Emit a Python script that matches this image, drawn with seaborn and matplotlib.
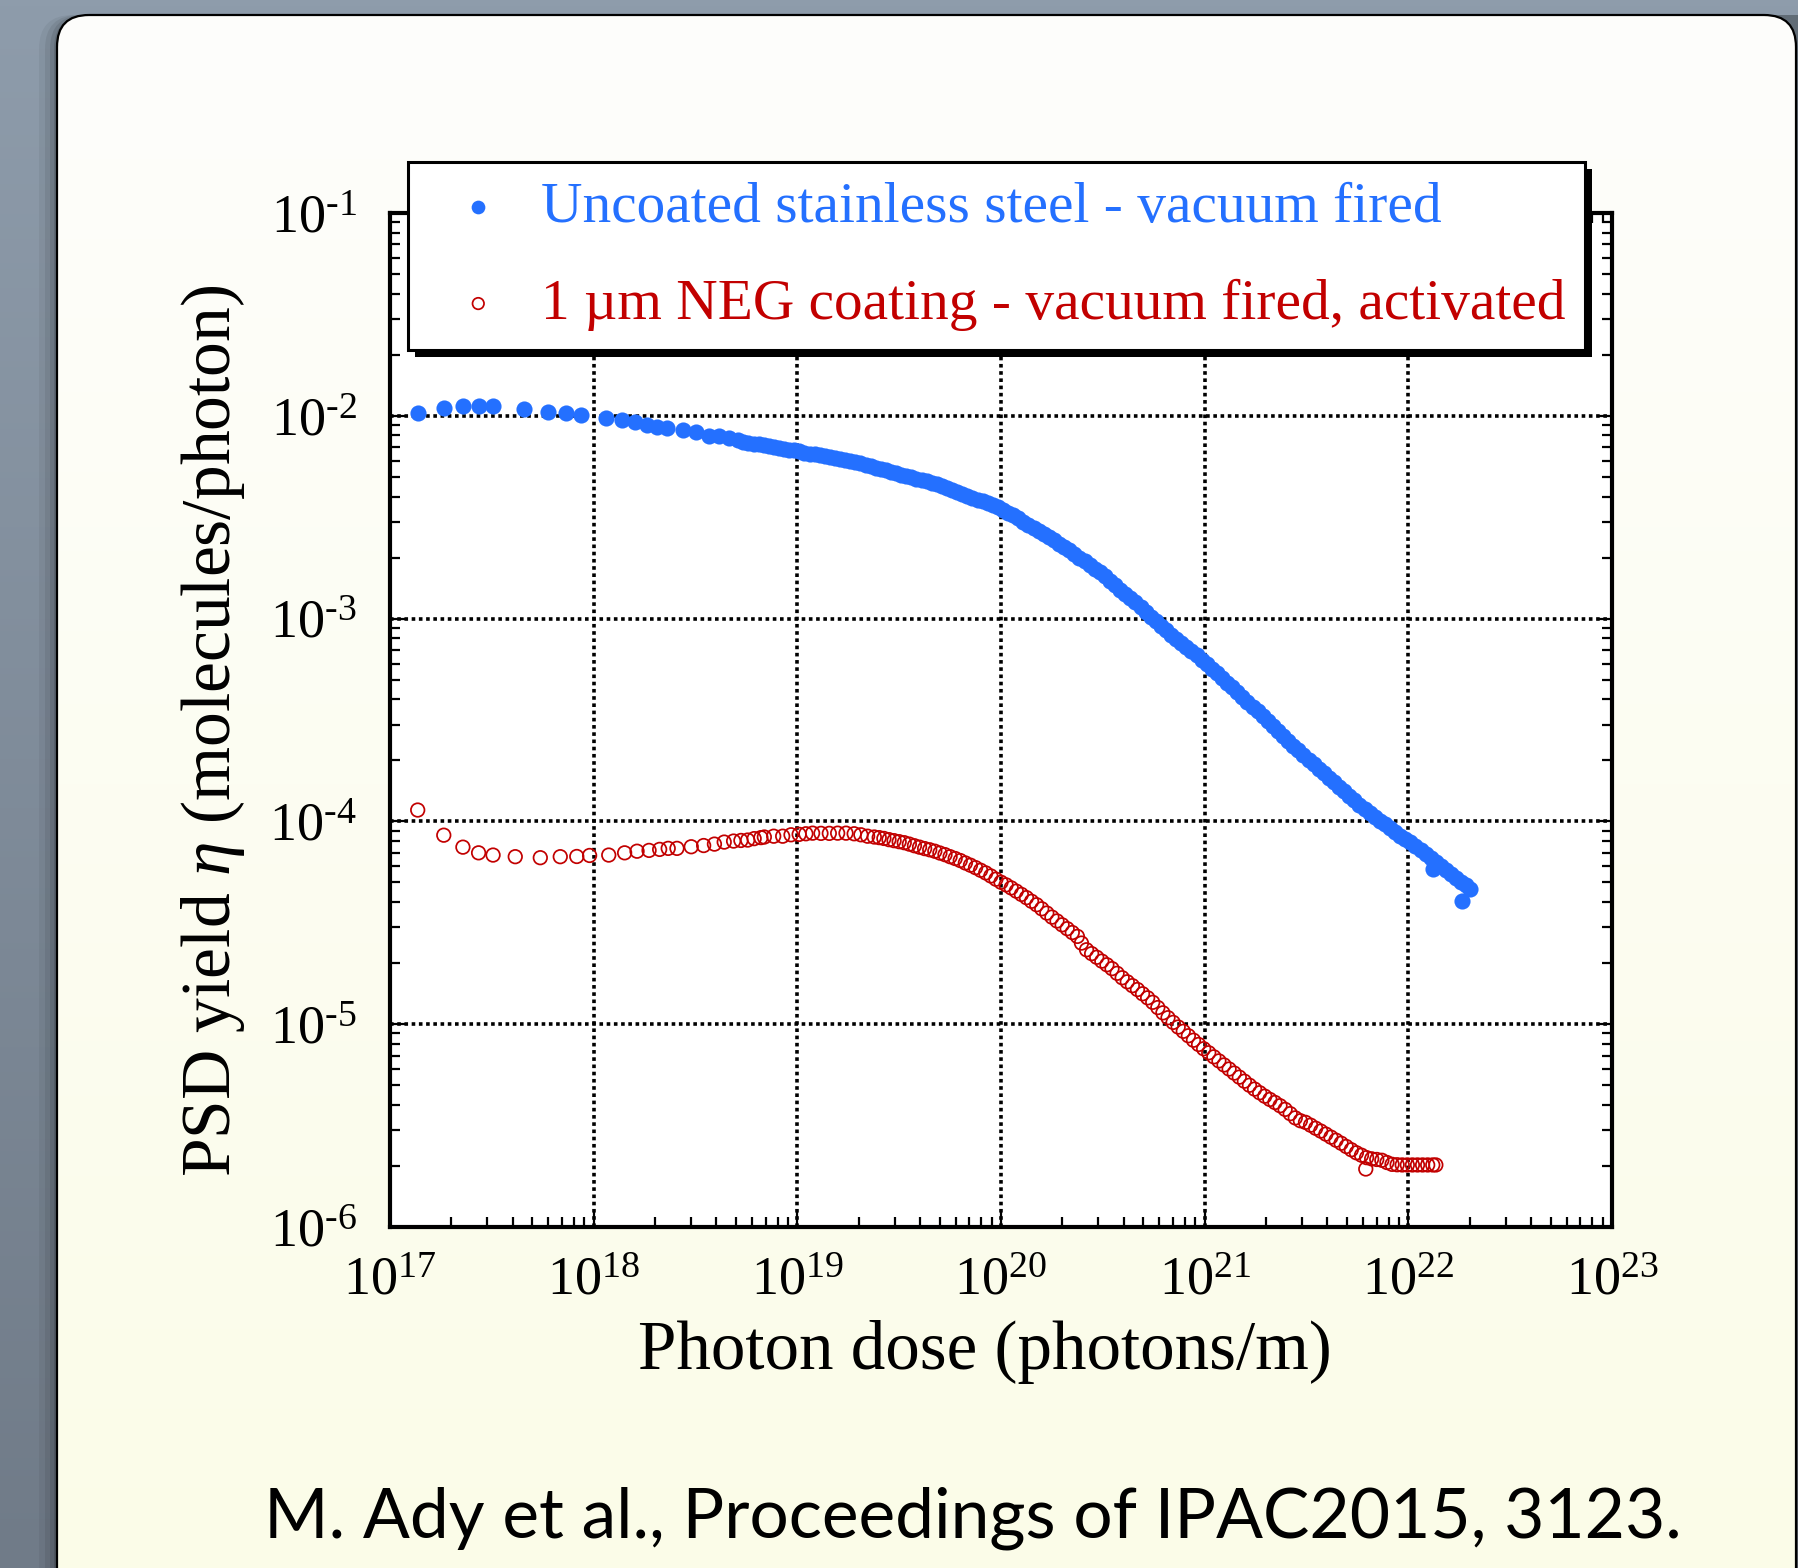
import numpy as np
import matplotlib
matplotlib.use("Agg")
import matplotlib.pyplot as plt
import seaborn as sns
from matplotlib.patches import FancyBboxPatch, Rectangle
from matplotlib.colors import LinearSegmentedColormap
from matplotlib.ticker import LogLocator, NullFormatter

# values, as log10 of dose (photons/m) and log10 of yield
steel_log_dose = [
    17.136, 17.264, 17.358, 17.437, 17.506, 17.659, 17.774, 17.866, 17.939, 18.060,
    18.137, 18.204, 18.263, 18.312, 18.358, 18.438, 18.504, 18.565, 18.615, 18.664,
    18.707,
    18.735, 18.76, 18.785, 18.81, 18.835, 18.86, 18.885, 18.91, 18.935, 18.96,
    18.985, 19.01, 19.035, 19.06, 19.085, 19.11, 19.135, 19.16, 19.185, 19.21,
    19.235, 19.26, 19.285, 19.31, 19.335, 19.36, 19.385, 19.41, 19.435, 19.46,
    19.485, 19.51, 19.535, 19.56, 19.585, 19.61, 19.635, 19.66, 19.685, 19.71,
    19.735, 19.76, 19.785, 19.81, 19.835, 19.86, 19.885, 19.91, 19.935, 19.96,
    19.985, 20.01, 20.035, 20.06, 20.085, 20.11, 20.135, 20.16, 20.185, 20.21,
    20.235, 20.26, 20.285, 20.31, 20.335, 20.36, 20.385, 20.41, 20.435, 20.46,
    20.485, 20.51, 20.535, 20.56, 20.585, 20.61, 20.635, 20.66, 20.685, 20.71,
    20.735, 20.76, 20.785, 20.81, 20.835, 20.86, 20.885, 20.91, 20.935, 20.96,
    20.985, 21.01, 21.035, 21.06, 21.085, 21.11, 21.135, 21.16, 21.185, 21.21,
    21.235, 21.26, 21.285, 21.31, 21.335, 21.36, 21.385, 21.41, 21.435, 21.46,
    21.485, 21.51, 21.535, 21.56, 21.585, 21.61, 21.635, 21.66, 21.685, 21.71,
    21.735, 21.76, 21.785, 21.81, 21.835, 21.86, 21.885, 21.91, 21.935, 21.96,
    21.985, 22.01, 22.035, 22.06, 22.085, 22.11, 22.135, 22.16, 22.185, 22.21,
    22.235, 22.26, 22.285, 22.305,
    22.12, 22.265,
]
steel_log_eta = [
    -1.985, -1.962, -1.954, -1.954, -1.954, -1.967, -1.979, -1.984, -1.994, -2.010,
    -2.023, -2.031, -2.046, -2.054, -2.059, -2.069, -2.082, -2.099, -2.102, -2.110,
    -2.119,
    -2.128, -2.132, -2.137, -2.141, -2.145, -2.149, -2.153, -2.158, -2.163, -2.167,
    -2.171, -2.176, -2.181, -2.186, -2.190, -2.193, -2.197, -2.201, -2.206, -2.212,
    -2.219, -2.225, -2.229, -2.234, -2.241, -2.250, -2.256, -2.262, -2.268, -2.275,
    -2.283, -2.290, -2.297, -2.304, -2.311, -2.317, -2.323, -2.330, -2.338, -2.346,
    -2.357, -2.368, -2.378, -2.387, -2.397, -2.405, -2.413, -2.421, -2.431, -2.440,
    -2.451, -2.464, -2.477, -2.489, -2.505, -2.522, -2.537, -2.553, -2.569, -2.584,
    -2.598, -2.614, -2.630, -2.646, -2.663, -2.681, -2.699, -2.716, -2.735, -2.754,
    -2.772, -2.792, -2.814, -2.836, -2.857, -2.878, -2.898, -2.918, -2.943, -2.969,
    -2.992, -3.014, -3.036, -3.058, -3.080, -3.101, -3.119, -3.138, -3.159, -3.181,
    -3.203, -3.224, -3.247, -3.270, -3.293, -3.316, -3.339, -3.362, -3.386, -3.410,
    -3.434, -3.458, -3.482, -3.506, -3.530, -3.554, -3.578, -3.602, -3.626, -3.650,
    -3.673, -3.695, -3.718, -3.740, -3.763, -3.786, -3.808, -3.830, -3.852, -3.874,
    -3.896, -3.917, -3.939, -3.959, -3.978, -3.997, -4.015, -4.034, -4.052, -4.071,
    -4.088, -4.103, -4.122, -4.142, -4.162, -4.182, -4.202, -4.221, -4.240, -4.259,
    -4.278, -4.297, -4.316, -4.334,
    -4.237, -4.394,
]

neg_log_dose = [
    17.136, 17.264, 17.358, 17.435, 17.506, 17.615, 17.738, 17.836, 17.917, 17.980,
    18.074, 18.152, 18.213, 18.272, 18.324, 18.366, 18.409, 18.479, 18.540, 18.593,
    18.641, 18.687, 18.723, 18.756, 18.788, 18.821, 18.838, 18.884, 18.928, 18.969,
    19.009, 19.042, 19.075, 19.116, 19.157, 19.198, 19.239, 19.279, 19.312, 19.345,
    19.378, 19.402,
    19.425, 19.45, 19.475, 19.5, 19.525, 19.55, 19.575, 19.6, 19.625, 19.65,
    19.675, 19.7, 19.725, 19.75, 19.775, 19.8, 19.825, 19.85, 19.875, 19.9,
    19.925, 19.95, 19.975, 20.0, 20.025, 20.05, 20.075, 20.1, 20.125, 20.15,
    20.175, 20.2, 20.225, 20.25, 20.275, 20.3, 20.325, 20.35, 20.375, 20.395,
    20.42, 20.445, 20.47, 20.495, 20.52, 20.545, 20.57, 20.595, 20.62, 20.645,
    20.67, 20.695, 20.72, 20.745, 20.77, 20.795, 20.82, 20.845, 20.87, 20.895,
    20.92, 20.945, 20.97, 20.995, 21.02, 21.045, 21.07, 21.095, 21.12, 21.145,
    21.17, 21.195, 21.22, 21.245, 21.27, 21.295, 21.32, 21.345, 21.37, 21.395,
    21.42, 21.445, 21.47, 21.495, 21.52, 21.545, 21.57, 21.595, 21.62, 21.645,
    21.67, 21.695, 21.72, 21.745, 21.77, 21.795, 21.82, 21.845, 21.87, 21.895,
    21.92, 21.945, 21.97, 21.995, 22.02, 22.045, 22.07, 22.095, 22.12, 22.135,
    21.791,
]
neg_log_eta = [
    -3.944, -4.068, -4.127, -4.155, -4.166, -4.174, -4.179, -4.174, -4.173, -4.168,
    -4.166, -4.155, -4.147, -4.143, -4.138, -4.133, -4.133, -4.125, -4.119, -4.112,
    -4.102, -4.097, -4.094, -4.092, -4.085, -4.080, -4.077, -4.073, -4.073, -4.066,
    -4.064, -4.061, -4.058, -4.059, -4.059, -4.058, -4.058, -4.061, -4.066, -4.073,
    -4.077, -4.080,
    -4.084, -4.090, -4.095, -4.100, -4.105, -4.112, -4.120, -4.127, -4.134, -4.140,
    -4.147, -4.156, -4.164, -4.174, -4.183, -4.193, -4.205, -4.216, -4.228, -4.241,
    -4.254, -4.269, -4.285, -4.300, -4.313, -4.328, -4.344, -4.360, -4.376, -4.394,
    -4.411, -4.431, -4.452, -4.472, -4.491, -4.510, -4.529, -4.548, -4.567, -4.600,
    -4.633, -4.652, -4.670, -4.689, -4.707, -4.726, -4.749, -4.771, -4.791, -4.810,
    -4.829, -4.850, -4.870, -4.892, -4.918, -4.944, -4.968, -4.991, -5.014, -5.035,
    -5.057, -5.079, -5.100, -5.121, -5.141, -5.161, -5.181, -5.201, -5.221, -5.241,
    -5.261, -5.281, -5.301, -5.320, -5.338, -5.355, -5.371, -5.386, -5.402, -5.420,
    -5.441, -5.462, -5.476, -5.484, -5.498, -5.513, -5.527, -5.542, -5.557, -5.572,
    -5.587, -5.603, -5.619, -5.634, -5.646, -5.658, -5.664, -5.667, -5.671, -5.682,
    -5.691, -5.693, -5.694, -5.694, -5.694, -5.694, -5.694, -5.694, -5.694, -5.694,
    -5.714,
]

series_labels = ["Uncoated stainless steel - vacuum fired",
                 "1 µm NEG coating - vacuum fired, activated"]
x_ticks = [1e17, 1e18, 1e19, 1e20, 1e21, 1e22, 1e23]
x_tick_labels = [r"$10^{17}$", r"$10^{18}$", r"$10^{19}$", r"$10^{20}$",
                 r"$10^{21}$", r"$10^{22}$", r"$10^{23}$"]
y_ticks = [1e-6, 1e-5, 1e-4, 1e-3, 1e-2, 1e-1]
y_tick_labels = [r"$10^{\text{-}6}$", r"$10^{\text{-}5}$", r"$10^{\text{-}4}$",
                 r"$10^{\text{-}3}$", r"$10^{\text{-}2}$", r"$10^{\text{-}1}$"]
x_title = "Photon dose (photons/m)"
y_title = r"PSD yield $\eta$ (molecules/photon)"
citation = "M. Ady et al., Proceedings of IPAC2015, 3123."

BLUE = "#2470ff"
RED = "#c20000"

sns.set_theme(style="ticks")
plt.rcParams["font.family"] = ["Liberation Serif", "DejaVu Serif"]
plt.rcParams["mathtext.fontset"] = "custom"
plt.rcParams["mathtext.rm"] = "Liberation Serif"
plt.rcParams["mathtext.it"] = "Liberation Serif:italic"
plt.rcParams["mathtext.bf"] = "Liberation Serif:bold"

W, H = 1798, 1568
fig = plt.figure(figsize=(W / 100, H / 100), dpi=100)

# slide backdrop: slate background and a rounded cream panel
bg = fig.add_axes([0, 0, 1, 1], zorder=-10)
slate = LinearSegmentedColormap.from_list("slate", ["#8e9cab", "#707b88"])
bg.imshow(np.linspace(0, 1, 256)[:, None], extent=[0, W, H, 0], cmap=slate,
          aspect="auto", zorder=0)
for off, a in [(18, 0.05), (12, 0.07), (7, 0.09), (3, 0.12)]:
    bg.add_patch(FancyBboxPatch((57 - off, 15), W, H + 100,
                                boxstyle="round,pad=0,rounding_size=34",
                                fc="black", ec="none", alpha=a, zorder=1))
panel = FancyBboxPatch((57, 15), W - 57 - 2, H + 100,
                       boxstyle="round,pad=0,rounding_size=32",
                       fc="none", ec="black", lw=1.6, zorder=3)
bg.add_patch(panel)
cream = LinearSegmentedColormap.from_list("cream", ["#fefefc", "#fbfce8"])
im = bg.imshow(np.linspace(0, 1, 256)[:, None], extent=[0, W, H, 0], cmap=cream,
               aspect="auto", zorder=2)
im.set_clip_path(panel)
bg.set_xlim(0, W)
bg.set_ylim(H, 0)
bg.axis("off")

# main chart
ax = fig.add_axes([390 / W, 1 - 1227 / H, (1612 - 390) / W, (1227 - 213) / H])
ax.set_facecolor("white")

sns.scatterplot(x=10 ** np.array(steel_log_dose), y=10 ** np.array(steel_log_eta),
                ax=ax, color=BLUE, marker="o", s=135, linewidth=0, legend=False)
sns.scatterplot(x=10 ** np.array(neg_log_dose), y=10 ** np.array(neg_log_eta),
                ax=ax, color=RED, marker="o", s=95, facecolors="none",
                edgecolor=RED, linewidth=1.25, legend=False)

ax.set_xscale("log")
ax.set_yscale("log")
ax.set_xlim(1e17, 1e23)
ax.set_ylim(1e-6, 1e-1)
ax.set_xticks(x_ticks, labels=x_tick_labels)
ax.set_yticks(y_ticks, labels=y_tick_labels)
for axis in (ax.xaxis, ax.yaxis):
    axis.set_minor_locator(LogLocator(base=10, subs=np.arange(2, 10), numticks=30))
    axis.set_minor_formatter(NullFormatter())

ax.tick_params(which="both", direction="in", top=True, right=True,
               color="black", width=1.6)
ax.tick_params(which="major", length=11, labelsize=39, labelcolor="black")
ax.tick_params(which="minor", length=7)
ax.tick_params(axis="x", which="major", pad=21)
ax.tick_params(axis="y", which="major", pad=24)
ax.grid(True, which="major", color="black", linestyle=(0, (1, 1)), linewidth=2.6)
ax.grid(False, which="minor")
for sp in ax.spines.values():
    sp.set_visible(True)
    sp.set_linewidth(3)
    sp.set_color("black")

ax.set_xlabel(x_title, fontsize=49.7, color="black")
ax.set_ylabel(y_title, fontsize=50, color="black")
ax.xaxis.set_label_coords(0.487, -0.092)
ax.yaxis.set_label_coords(-0.117, 0.489)

# legend with a solid drop shadow
handles = ax.collections[:2]
leg = fig.legend(handles, series_labels, loc="upper left",
                 bbox_to_anchor=(408 / W, 1 - 162 / H), bbox_transform=fig.transFigure,
                 fontsize=41.3, frameon=True, fancybox=False, framealpha=1,
                 edgecolor="black", facecolor="white", borderpad=0.34,
                 labelspacing=0.78, handlelength=1.77, handletextpad=0.2,
                 borderaxespad=0, scatterpoints=1, markerscale=0.85)
leg.get_frame().set_linewidth(2.2)
leg.set_zorder(6)
for txt, col in zip(leg.get_texts(), [BLUE, RED]):
    txt.set_color(col)

fig.canvas.draw()
bb = leg.get_window_extent(fig.canvas.get_renderer())
fig.add_artist(Rectangle(((bb.x0 + 7) / W, (bb.y0 - 7) / H), bb.width / W, bb.height / H,
                         transform=fig.transFigure, fc="black", ec="none", zorder=5.9))

fig.text(973 / W, 1 - 1537 / H, citation, ha="center", va="baseline",
         fontsize=50, family="Lato", color="black")

fig.savefig("out.png", dpi=100)
